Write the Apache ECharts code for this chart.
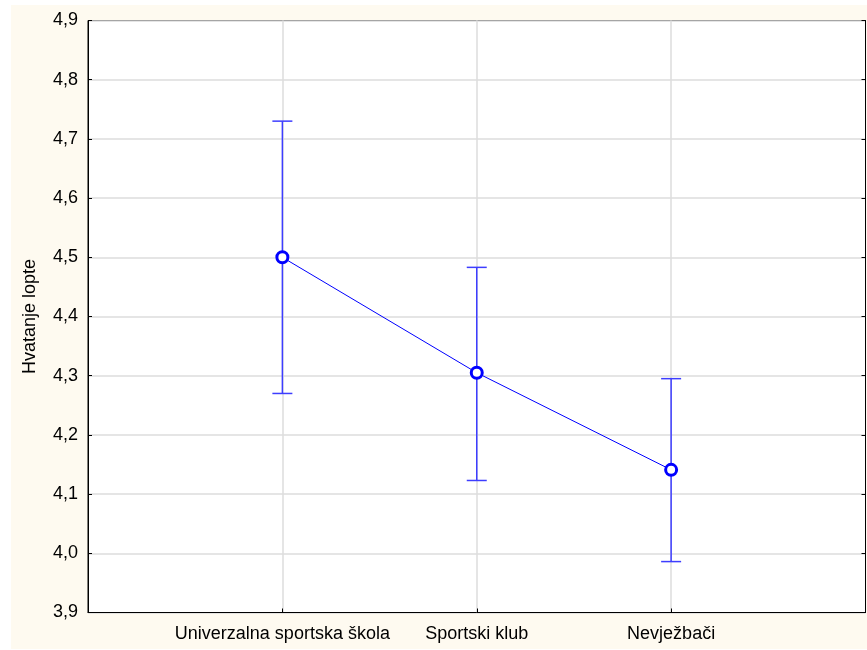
<!DOCTYPE html>
<html>
<head>
<meta charset="utf-8">
<script src="https://cdn.jsdelivr.net/npm/echarts@6/dist/echarts.min.js"></script>
<style>
html,body{margin:0;padding:0;background:#fff;}
#c{width:867px;height:650px;}
</style>
</head>
<body>
<div id="c"></div>
<script>
var categories = ['Univerzalna sportska škola', 'Sportski klub', 'Nevježbači'];
var means = [4.500, 4.305, 4.141];
var lowerBounds = [4.270, 4.123, 3.986];
var upperBounds = [4.730, 4.483, 4.295];
var yTitle = 'Hvatanje lopte';

var axisCats = [''].concat(categories).concat(['']);
var meanData = means.map(function (v, i) { return [i + 1, v]; });
var errData = categories.map(function (c, i) { return [i + 1, lowerBounds[i], upperBounds[i]]; });

var chart = echarts.init(document.getElementById('c'));
var FONT = 'Liberation Sans, Arial, sans-serif';
var inner = function (idx) { return idx >= 1 && idx <= 3; };

chart.setOption({
  animation: false,
  backgroundColor: '#ffffff',
  graphic: [{
    type: 'rect', z: -10, silent: true,
    shape: { x: 11, y: 5, width: 856, height: 644 },
    style: { fill: '#fefaf0' }
  }],
  grid: {
    left: 88, top: 20.5, right: 1.5, bottom: 37.5,
    show: true, backgroundColor: '#ffffff', borderColor: '#000', borderWidth: 1
  },
  xAxis: [{
    type: 'category', data: axisCats, boundaryGap: false, position: 'bottom',
    axisLine: { lineStyle: { color: '#000', width: 1 } },
    axisTick: { inside: true, length: 4, interval: function (i) { return inner(i); }, lineStyle: { color: '#000' } },
    axisLabel: { interval: function (i) { return inner(i); }, color: '#000', fontFamily: FONT, fontSize: 18, margin: 13 },
    splitLine: { show: true, interval: function (i) { return inner(i); }, lineStyle: { color: '#dcdcdc', width: 1.5 } }
  }],
  yAxis: [{
    type: 'value', min: 3.9, max: 4.9, interval: 0.1,
    name: yTitle, nameLocation: 'middle', nameGap: 49, nameRotate: 90,
    nameTextStyle: { color: '#000', fontFamily: FONT, fontSize: 18 },
    axisLine: { show: true, lineStyle: { color: '#000' } },
    axisTick: { show: true, inside: true, length: 4, lineStyle: { color: '#000' } },
    axisLabel: {
      color: '#000', fontFamily: FONT, fontSize: 18, margin: 10,
      formatter: function (v) { return v.toFixed(1).replace('.', ','); }
    },
    splitLine: { show: true, lineStyle: { color: '#dcdcdc', width: 1.5 } }
  }, {
    type: 'value', min: 3.9, max: 4.9, interval: 0.1, position: 'right',
    axisLine: { show: true, lineStyle: { color: '#000' } },
    axisTick: { show: true, inside: true, length: 4, lineStyle: { color: '#000' } },
    axisLabel: { show: false },
    splitLine: { show: false }
  }],
  series: [{
    type: 'custom',
    data: errData,
    z: 2,
    renderItem: function (params, api) {
      var x = api.value(0);
      var lo = api.coord([x, api.value(1)]);
      var hi = api.coord([x, api.value(2)]);
      var hw = 10;
      var style = { stroke: '#3d3dff', lineWidth: 1.5 };
      return {
        type: 'group',
        children: [
          { type: 'line', shape: { x1: hi[0], y1: hi[1], x2: lo[0], y2: lo[1] }, style: style },
          { type: 'line', shape: { x1: hi[0] - hw, y1: hi[1], x2: hi[0] + hw, y2: hi[1] }, style: style },
          { type: 'line', shape: { x1: lo[0] - hw, y1: lo[1], x2: lo[0] + hw, y2: lo[1] }, style: style }
        ]
      };
    }
  }, {
    type: 'line',
    data: meanData,
    z: 3,
    symbol: 'circle', symbolSize: 11,
    itemStyle: { color: '#ffffff', borderColor: '#0000ff', borderWidth: 3 },
    lineStyle: { color: '#0000ff', width: 1 }
  }]
});
</script>
</body>
</html>
